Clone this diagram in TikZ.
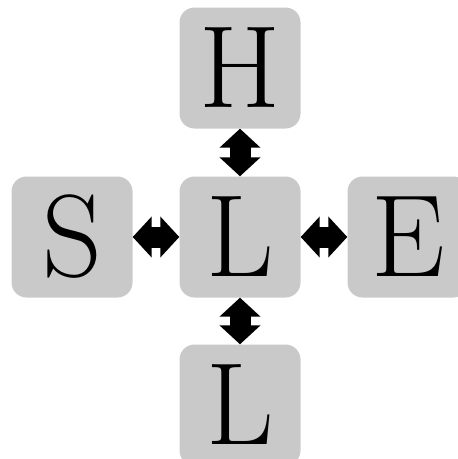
\documentclass[tikz,border=0pt]{standalone}
\usepackage{fontspec}
\usetikzlibrary{arrows.meta}
\definecolor{boxgray}{RGB}{201,201,201}
\begin{document}
\begin{tikzpicture}[x=1pt,y=1pt,
  letterbox/.style={fill=boxgray, rounded corners=15pt, minimum width=121pt, minimum height=121pt, inner sep=0pt, font=\fontsize{117}{117}\selectfont},
  dbl/.style={line width=21pt, {Triangle[width=40pt,length=19pt]}-{Triangle[width=40pt,length=19pt]}}]
\useasboundingbox (0,0) rectangle (458,-459);
\clip (0,0) rectangle (458,-459);
\node[letterbox] (C) at (240,-237) {L};
\node[letterbox] (H) at (240,-68) {H};
\node[letterbox] (S) at (72,-237) {S};
\node[letterbox] (E) at (408,-237) {E};
\node[letterbox] (B) at (240,-405) {L};
\draw[dbl] (H) -- (C);
\draw[dbl] (C) -- (B);
\draw[dbl] (S) -- (C);
\draw[dbl] (C) -- (E);
\end{tikzpicture}
\end{document}
